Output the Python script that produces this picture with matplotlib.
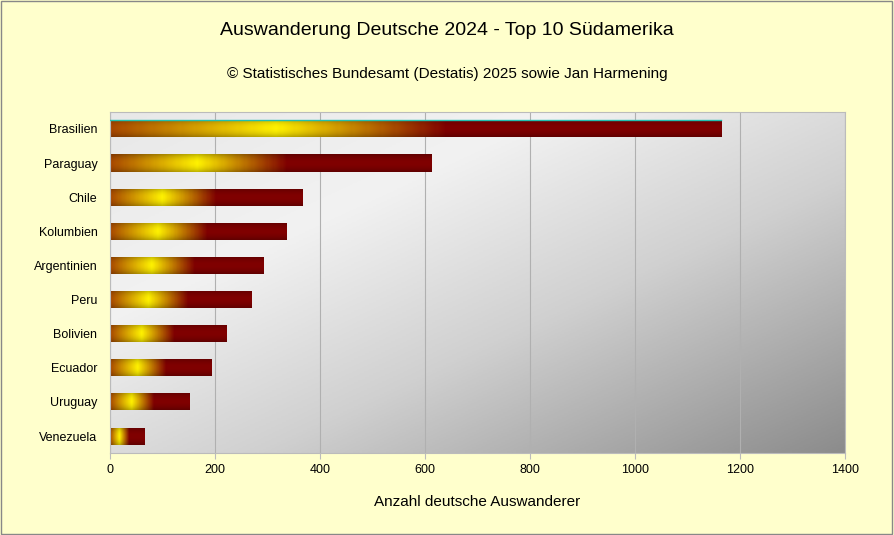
import numpy as np
import matplotlib.pyplot as plt
from matplotlib.colors import LinearSegmentedColormap

plt.rcParams["font.family"] = "Liberation Sans"

countries = ["Brasilien","Paraguay","Chile","Kolumbien","Argentinien","Peru","Bolivien","Ecuador","Uruguay","Venezuela"]
values = [1165, 612, 366, 336, 293, 270, 222, 193, 152, 65]
xticks = [0, 200, 400, 600, 800, 1000, 1200, 1400]

fig = plt.figure(figsize=(8.94, 5.35), dpi=100, facecolor="#FFFFCC")
fig.patches.append(plt.Rectangle((0.001, 0.002), 0.997, 0.996, transform=fig.transFigure,
                                 fill=False, edgecolor="#888888", lw=1))
ax = fig.add_axes([0.123, 0.153, 0.822, 0.638])
ax.set_xlim(0, 1400)
n = len(countries)
ax.set_ylim(n - 0.5, -0.5)

gx, gy = np.meshgrid(np.linspace(0, 1, 200), np.linspace(0, 1, 200))
g = (gx + gy) / 2
bgcmap = LinearSegmentedColormap.from_list("bg", [(0, "#E8E8E8"), (0.3, "#F2F2F2"), (0.6, "#D0D0D0"), (1, "#8C8C8C")])
ax.imshow(g, extent=(0, 1400, n - 0.5, -0.5), aspect="auto", cmap=bgcmap, zorder=0)
ax.set_xticks(xticks)
ax.grid(axis="x", color="#B0B0B0", lw=0.8, zorder=1)

barcmap = LinearSegmentedColormap.from_list("bar", [(0, "#A84800"), (0.27, "#FFF200"), (0.55, "#800000"), (1, "#800000")])
xs = np.linspace(0, 1, 300)
ys = np.linspace(-1, 1, 40)
XX, YY = np.meshgrid(xs, ys)
rgb = barcmap(XX)[..., :3]
shade = 1 - 0.25 * YY ** 2
rgb = rgb * shade[..., None]
h = 0.5
for i, v in enumerate(values):
    r = plt.Rectangle((0, i - h / 2), v, h, facecolor="none", edgecolor="none")
    ax.add_patch(r)
    im = ax.imshow(rgb, extent=(0, v, i + h / 2, i - h / 2), aspect="auto", zorder=2, interpolation="bilinear")
    im.set_clip_path(r)
ax.plot([0, values[0]], [-h / 2, -h / 2], color="#20C0B0", lw=1, zorder=3)

ax.set_yticks(range(n))
ax.set_yticklabels(countries, fontsize=9)
ax.tick_params(axis="x", labelsize=9, length=4, color="#BBBBBB")
ax.tick_params(axis="y", length=0, pad=9)
for s in ax.spines.values():
    s.set_color("#BBBBBB")
ax.set_xlabel("Anzahl deutsche Auswanderer", fontsize=11, labelpad=14)
fig.text(0.5, 0.935, "Auswanderung Deutsche 2024 - Top 10 Südamerika", ha="center", fontsize=14)
fig.text(0.5, 0.855, "© Statistisches Bundesamt (Destatis) 2025 sowie Jan Harmening", ha="center", fontsize=11)
fig.savefig("out.png", dpi=100, facecolor=fig.get_facecolor())
